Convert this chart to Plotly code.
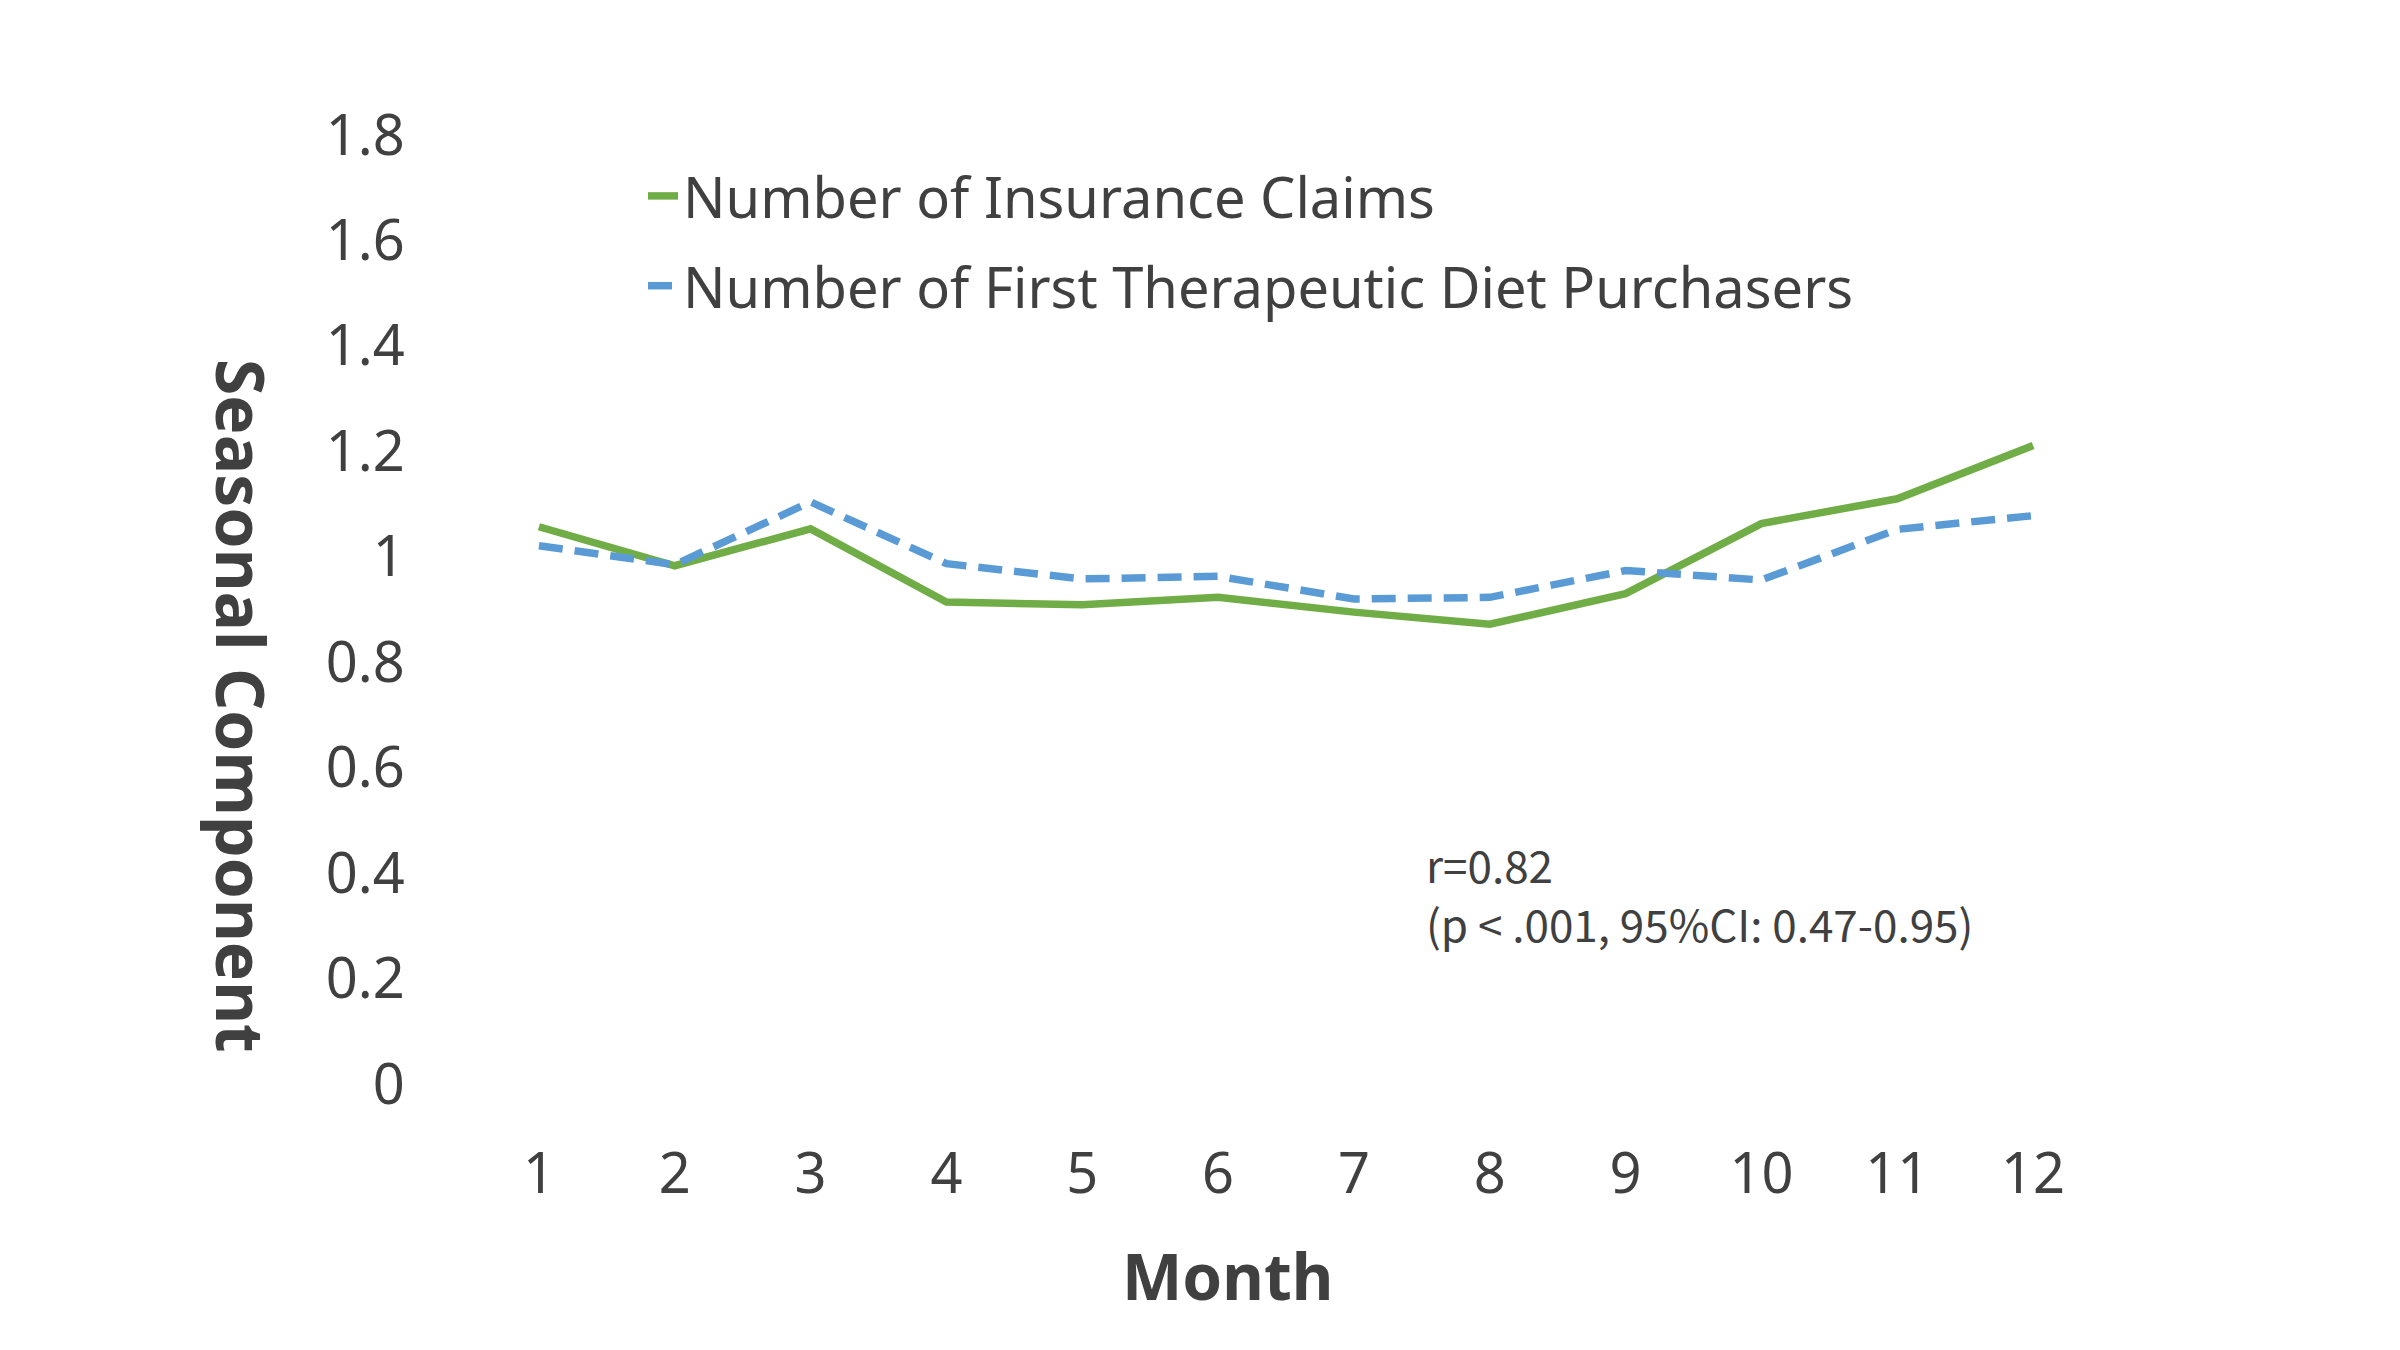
import plotly.graph_objects as go

months = [1, 2, 3, 4, 5, 6, 7, 8, 9, 10, 11, 12]
insurance_claims = [1.057, 0.983, 1.053, 0.914, 0.909, 0.923, 0.895, 0.872, 0.930, 1.063, 1.110, 1.211]
diet_purchasers = [1.021, 0.985, 1.104, 0.987, 0.958, 0.963, 0.920, 0.923, 0.974, 0.956, 1.052, 1.078]
y_ticks = [0, 0.2, 0.4, 0.6, 0.8, 1, 1.2, 1.4, 1.6, 1.8]
y_tick_labels = ["0", "0.2", "0.4", "0.6", "0.8", "1", "1.2", "1.4", "1.6", "1.8"]

TXT = "#404040"
FONT = "Noto Sans"

fig = go.Figure()
fig.add_trace(go.Scatter(
    x=months, y=insurance_claims, mode="lines",
    name="Number of Insurance Claims", legendgroup="a",
    line=dict(color="#70AD47", width=7.5),
))
fig.add_trace(go.Scatter(
    x=months, y=diet_purchasers, mode="lines",
    name="Number of First Therapeutic Diet Purchasers", legendgroup="b",
    line=dict(color="#5B9BD5", width=7.5, dash="24px,12px"),
))

W, H = 2400, 1350
L, pw = 463, 1630
T, ph = 127, 949
R = W - L - pw
B = H - T - ph

def px_x(x):
    return (x - L) / pw

def px_y(y):
    return (H - B - y) / ph

fig.update_layout(
    width=W, height=H,
    margin=dict(l=L, r=R, t=T, b=B),
    paper_bgcolor="white", plot_bgcolor="white",
    font=dict(family=FONT, color=TXT, size=54),
    showlegend=True,
    legend=dict(
        x=px_x(635), y=px_y(145), xanchor="left", yanchor="top",
        font=dict(size=56, color=TXT, family=FONT),
        bgcolor="rgba(0,0,0,0)", tracegroupgap=14, itemwidth=30,
    ),
    xaxis=dict(
        range=[0.5, 12.5], tickmode="array", tickvals=months,
        ticktext=[str(m) for m in months],
        showgrid=False, zeroline=False, showline=False,
        ticks="outside", ticklen=41, tickcolor="rgba(0,0,0,0)",
        tickfont=dict(size=56, color=TXT, family=FONT),
    ),
    yaxis=dict(
        range=[0, 1.8], tickmode="array", tickvals=y_ticks, ticktext=y_tick_labels,
        showgrid=False, zeroline=False, showline=False,
        ticks="outside", ticklen=54, tickcolor="rgba(0,0,0,0)",
        tickfont=dict(size=56, color=TXT, family=FONT),
    ),
)

fig.add_annotation(
    text="<b>Seasonal Component</b>", xref="paper", yref="paper",
    x=px_x(234), y=px_y(698), showarrow=False, textangle=90,
    font=dict(size=66, color=TXT, family=FONT), xanchor="center", yanchor="middle",
)
fig.add_annotation(
    text="<b>Month</b>", xref="paper", yref="paper",
    x=px_x(1219), y=px_y(1267), showarrow=False,
    font=dict(size=64, color=TXT, family=FONT), xanchor="center", yanchor="middle",
)
fig.add_annotation(
    text="r=0.82", xref="paper", yref="paper",
    x=px_x(1416), y=px_y(856), showarrow=False, align="left",
    font=dict(size=44, color=TXT, family="Noto Sans CJK JP"),
    xanchor="left", yanchor="middle",
)
fig.add_annotation(
    text="(p < .001, 95%CI: 0.47-0.95)", xref="paper", yref="paper",
    x=px_x(1416), y=px_y(915), showarrow=False, align="left",
    font=dict(size=44, color=TXT, family="Noto Sans CJK JP"),
    xanchor="left", yanchor="middle",
)

fig.write_html("out.html")
